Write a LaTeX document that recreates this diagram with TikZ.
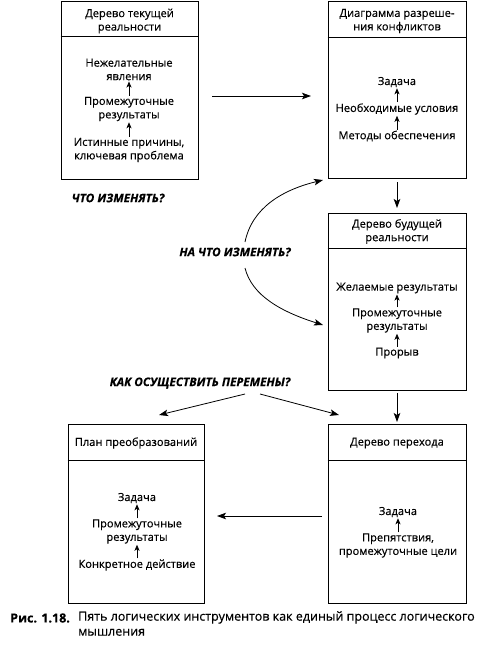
\documentclass[tikz,border=0pt]{standalone}
\usepackage{fontspec}
\setmainfont{Open Sans}[FakeBold=0.3]
\usetikzlibrary{arrows.meta}
\begin{document}
\begin{tikzpicture}[x=1pt,y=-1pt,
  font=\fontsize{11.1}{13.5}\selectfont,
  frame/.style={draw, line width=1pt, minimum width=137pt, inner sep=0pt},
  txt/.style={align=center, inner sep=1pt},
  quest/.style={font=\fontsize{11.8}{13}\selectfont\bfseries\itshape, inner sep=1pt},
  bigarrow/.style={line width=0.8pt, -{Stealth[length=9pt,width=6.5pt,inset=2pt]}},
  smallarrow/.style={line width=0.8pt, -{Stealth[length=6pt,width=5pt,inset=1.5pt]}}]
\useasboundingbox (0,0) rectangle (480,659);
\fill[white] (0,0) rectangle (480,659);
% box frames
\node[frame, minimum height=178pt] (b1) at (129.5,90) {};
\node[frame, minimum width=138pt, minimum height=177pt] (b2) at (397,89.5) {};
\node[frame, minimum width=138pt, minimum height=177pt] (b3) at (397,301.5) {};
\node[frame, minimum width=136pt, minimum height=179pt] (b4) at (136,513.5) {};
\node[frame, minimum width=138pt, minimum height=179pt] (b5) at (397,513.5) {};
% dividers
\draw[line width=1pt] (b1.west |- 0,36) -- (b1.east |- 0,36);
\draw[line width=1pt] (b2.west |- 0,37) -- (b2.east |- 0,37);
\draw[line width=1pt] (b3.west |- 0,248) -- (b3.east |- 0,248);
\draw[line width=1pt] (b4.west |- 0,460) -- (b4.east |- 0,460);
\draw[line width=1pt] (b5.west |- 0,460) -- (b5.east |- 0,460);
% titles
\node[txt] (t1) at (129.5,21) {Дерево текущей\\реальности};
\node[txt] (t2) at (397,21) {Диаграмма разреше-\\ния конфликтов};
\node[txt] (t3) at (397,231.5) {Дерево будущей\\реальности};
\node[txt] (t4) at (136,443) {План преобразований};
\node[txt] (t5) at (397,443) {Дерево перехода};
% box 1 contents
\node[txt] (a1) at (129,69.5) {Нежелательные\\явления};
\node[txt] (a2) at (129,109) {Промежуточные\\результаты};
\node[txt] (a3) at (129,150) {Истинные причины,\\ключевая проблема};
\draw[smallarrow] (a2) -- (a1);
\draw[smallarrow] (a3) -- (a2);
% box 2 contents
\node[txt] (c1) at (397,82) {Задача};
\node[txt] (c2) at (397,109) {Необходимые условия};
\node[txt] (c3) at (397,136) {Методы обеспечения};
\draw[smallarrow] (c2) -- (c1);
\draw[smallarrow] (c3) -- (c2);
% box 3 contents
\node[txt] (f1) at (397,288) {Желаемые результаты};
\node[txt] (f2) at (397,320.5) {Промежуточные\\результаты};
\node[txt] (f3) at (397,353) {Прорыв};
\draw[smallarrow] (f2) -- (f1);
\draw[smallarrow] (f3) -- (f2);
% box 4 contents
\node[txt] (p1) at (137,498) {Задача};
\node[txt] (p2) at (137,531.5) {Промежуточные\\результаты};
\node[txt] (p3) at (137,565) {Конкретное действие};
\draw[smallarrow] (p2) -- (p1);
\draw[smallarrow] (p3) -- (p2);
% box 5 contents
\node[txt] (r1) at (398,512) {Задача};
\node[txt] (r2) at (398,545.5) {Препятствия,\\промежуточные цели};
\draw[smallarrow] (r2) -- (r1);
% questions
\node[quest] (q1) at (118,198) {ЧТО ИЗМЕНЯТЬ?};
\node[quest] (q2) at (235,252) {НА ЧТО ИЗМЕНЯТЬ?};
\node[quest] (q3) at (200,383) {КАК ОСУЩЕСТВИТЬ ПЕРЕМЕНЫ?};
% connector end points
\coordinate (e12s) at (212,96);
\coordinate (e12e) at (311,96);
\coordinate (e23s) at (397,182);
\coordinate (e23e) at (397,208);
\coordinate (e35s) at (397,393);
\coordinate (e35e) at (397,422);
\coordinate (e54s) at (322,516);
\coordinate (e54e) at (217,516);
\coordinate (up1) at (245,242);
\coordinate (up2) at (323,180);
\coordinate (dn1) at (245,268);
\coordinate (dn2) at (323,325);
\coordinate (k1) at (245,394);
\coordinate (k2) at (159,415);
\coordinate (k3) at (260,394);
\coordinate (k4) at (339,415);
\draw[bigarrow] (e12s) -- (e12e);
\draw[bigarrow] (e23s) -- (e23e);
\draw[bigarrow] (e35s) -- (e35e);
\draw[bigarrow] (e54s) -- (e54e);
\draw[bigarrow] (up1) .. controls (252,208) and (282,190) .. (up2);
\draw[bigarrow] (dn1) .. controls (252,296) and (282,312) .. (dn2);
\draw[bigarrow] (k1) -- (k2);
\draw[bigarrow] (k3) -- (k4);
% caption
\node[anchor=west, inner sep=0pt, font=\fontsize{12.5}{15}\selectfont\bfseries] (capn) at (10,618) {Рис. 1.18.};
\node[anchor=north west, inner sep=0pt, align=left, font=\fontsize{12.5}{15}\selectfont] (capt) at (78,611) {Пять логических инструментов как единый процесс логического\\мышления};
\end{tikzpicture}
\end{document}
